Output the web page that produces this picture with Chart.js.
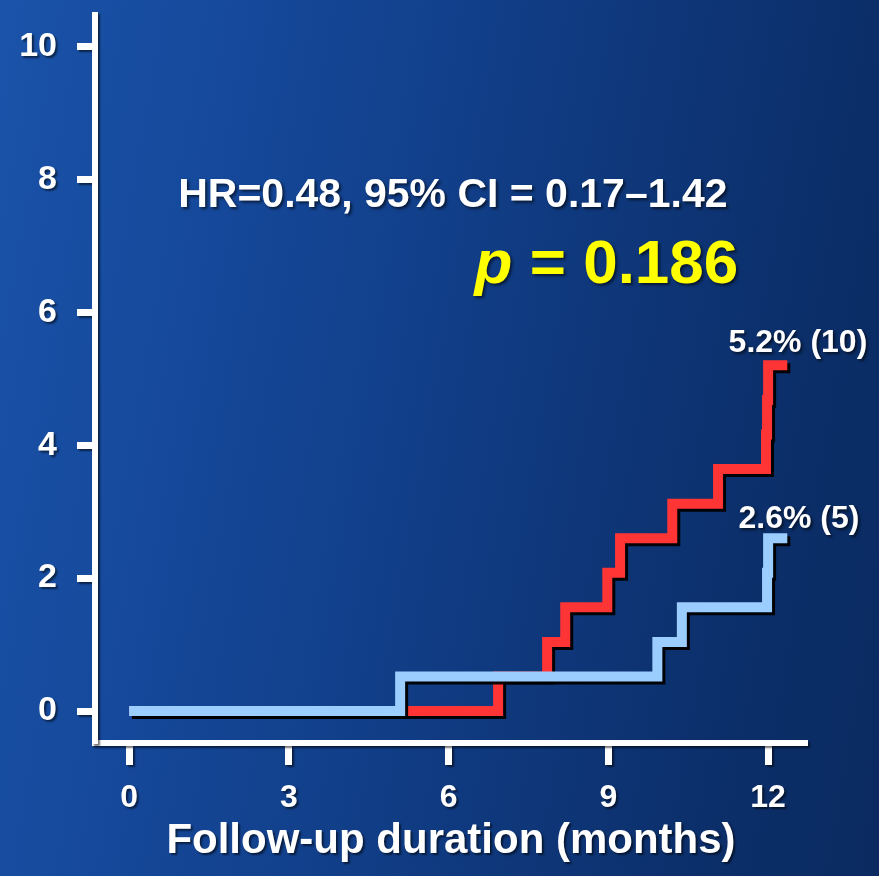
<!DOCTYPE html>
<html>
<head>
<meta charset="utf-8">
<script src="https://cdn.jsdelivr.net/npm/chart.js@4.4.1/dist/chart.umd.min.js"></script>
<style>
  html, body { margin: 0; padding: 0; }
  body {
    width: 879px; height: 876px; overflow: hidden;
    background: linear-gradient(100deg, #1a53a9 0%, #15489a 25%, #103b82 55%, #0c306c 80%, #0a2a60 100%);
  }
  #wrap { position: relative; width: 879px; height: 876px; }
</style>
</head>
<body>
<div id="wrap"><canvas id="km"></canvas></div>
<script>
// tick labels
const xTicks = [0, 3, 6, 9, 12];
const yTicks = [0, 2, 4, 6, 8, 10];

// cumulative incidence (%) by month
const redMonths = [0, 6.93, 7.85, 8.19, 8.98, 9.22, 10.2, 11.06, 11.96, 11.98, 12.0, 12.36];
const redPct    = [0, 0.52, 1.04, 1.56, 2.08, 2.6, 3.12, 3.64, 4.16, 4.68, 5.2, 5.2];

const blueMonths = [0, 5.09, 9.92, 10.38, 11.98, 12.0, 12.36];
const bluePct    = [0, 0.52, 1.04, 1.56, 2.08, 2.6, 2.6];

const statsText = 'HR=0.48, 95% CI = 0.17–1.42';
const pText = ['p', ' = 0.186'];
const endLabels = ['5.2% (10)', '2.6% (5)'];

const FONT = "'Liberation Sans', Arial, sans-serif";

const toPoints = (xs, ys) => xs.map((m, i) => ({ x: m, y: ys[i] }));

// no extra room for overflowing tick labels, the frame is fixed
const noPad = s => {
  s.paddingTop = 0;
  s.paddingBottom = 0;
  s.paddingLeft = 0;
  s.paddingRight = 0;
};

const slideLook = {
  id: 'slideLook',
  beforeDraw(chart) {
    const c = chart.ctx;
    c.shadowColor = 'rgba(0,0,0,0.55)';
    c.shadowOffsetX = 2;
    c.shadowOffsetY = 2;
    c.shadowBlur = 2;
  },
  beforeDatasetDraw(chart) {
    const c = chart.ctx;
    c.save();
    c.shadowColor = 'rgba(0,0,0,0.95)';
    c.shadowOffsetX = 3;
    c.shadowOffsetY = 3;
    c.shadowBlur = 0;
  },
  afterDatasetDraw(chart) {
    chart.ctx.restore();
  },
  afterDatasetsDraw(chart) {
    const c = chart.ctx;
    const x = chart.scales.x, y = chart.scales.y;
    c.save();
    c.shadowColor = 'rgba(0,0,0,0.6)';
    c.shadowOffsetX = 2;
    c.shadowOffsetY = 2;
    c.shadowBlur = 3;
    c.textBaseline = 'alphabetic';

    c.fillStyle = '#ffffff';
    c.textAlign = 'center';
    c.font = 'bold 41px ' + FONT;
    c.fillText(statsText, x.getPixelForValue(6.08), y.getPixelForValue(7.58));

    c.font = 'bold 32px ' + FONT;
    c.fillText(endLabels[0], x.getPixelForValue(12.56), y.getPixelForValue(5.4));
    c.fillText(endLabels[1], x.getPixelForValue(12.58), y.getPixelForValue(2.75));

    // p-value, right edge fixed
    c.fillStyle = '#ffff00';
    c.font = 'bold 62px ' + FONT;
    const right = x.getPixelForValue(11.44);
    const base = y.getPixelForValue(6.44);
    const wRest = c.measureText(pText[1]).width;
    c.textAlign = 'left';
    c.fillText(pText[1], right - wRest, base);
    c.font = 'italic bold 62px ' + FONT;
    c.textAlign = 'right';
    c.fillText(pText[0], right - wRest, base);
    c.restore();
  },
  afterDraw(chart) {
    const c = chart.ctx;
    c.shadowColor = 'rgba(0,0,0,0)';
    c.shadowOffsetX = 0;
    c.shadowOffsetY = 0;
    c.shadowBlur = 0;
  }
};

new Chart(document.getElementById('km'), {
  type: 'line',
  data: {
    datasets: [
      {
        label: 'blue',
        data: toPoints(blueMonths, bluePct),
        borderColor: '#9ccdff',
        borderWidth: 10,
        stepped: 'before',
        borderJoinStyle: 'miter',
        borderCapStyle: 'butt',
        pointRadius: 0,
        fill: false
      },
      {
        label: 'red',
        data: toPoints(redMonths, redPct),
        borderColor: '#ff3535',
        borderWidth: 10,
        stepped: 'before',
        borderJoinStyle: 'miter',
        borderCapStyle: 'butt',
        pointRadius: 0,
        fill: false
      }
    ]
  },
  options: {
    responsive: true,
    maintainAspectRatio: false,
    animation: false,
    layout: { padding: { left: 0, top: 15, right: 72, bottom: 0 } },
    plugins: {
      legend: { display: false },
      tooltip: { enabled: false }
    },
    scales: {
      x: {
        type: 'linear',
        min: -0.64,
        max: 12.73,
        afterBuildTicks: s => { s.ticks = xTicks.map(v => ({ value: v })); },
        afterFit: s => { s.height = 133; noPad(s); },
        grid: { drawOnChartArea: false, drawTicks: true, tickLength: 22, tickWidth: 7, tickColor: '#ffffff' },
        border: { display: true, color: '#ffffff', width: 6 },
        ticks: { color: '#ffffff', padding: 14, font: { family: FONT, size: 32, weight: 'bold' } },
        title: {
          display: true,
          text: 'Follow-up duration (months)',
          color: '#ffffff',
          font: { family: FONT, size: 42, weight: 'bold', lineHeight: 1 },
          padding: { top: 0, bottom: 14 }
        }
      },
      y: {
        type: 'linear',
        min: -0.48,
        max: 10.47,
        afterBuildTicks: s => { s.ticks = yTicks.map(v => ({ value: v })); },
        afterFit: s => { s.width = 95; noPad(s); },
        grid: { drawOnChartArea: false, drawTicks: true, tickLength: 18, tickWidth: 7, tickColor: '#ffffff' },
        border: { display: true, color: '#ffffff', width: 6 },
        ticks: { color: '#ffffff', padding: 20, font: { family: FONT, size: 34, weight: 'bold' } }
      }
    }
  },
  plugins: [slideLook]
});
</script>
</body>
</html>
